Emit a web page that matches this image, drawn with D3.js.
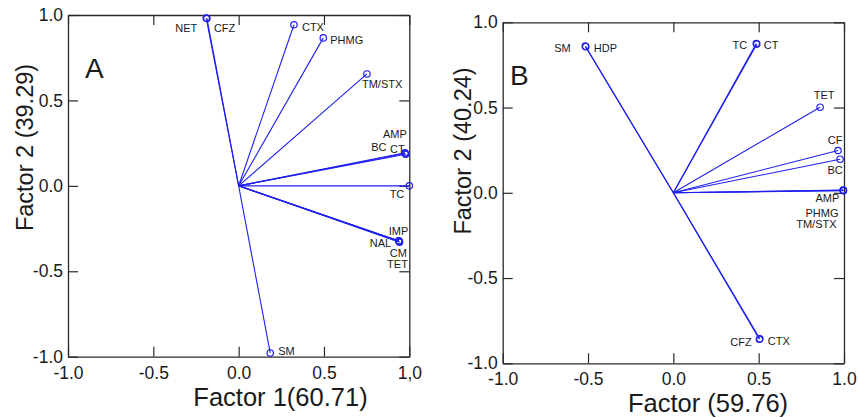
<!DOCTYPE html>
<html>
<head>
<meta charset="utf-8">
<script src="https://cdn.jsdelivr.net/npm/d3@7"></script>
<style>
  body { margin: 0; background: #fff; }
  svg { display: block; }
  text { font-family: "Liberation Sans", Arial, sans-serif; fill: #1a1a1a; }
</style>
</head>
<body>
<svg id="chart" width="858" height="418"></svg>
<script>
// ---------- DATA ----------
const tickValues = [-1, -0.5, 0, 0.5, 1];
const tickLabelsAX = ["-1.0", "-0.5", "0.0", "0.5", "1,0"];
const tickLabelsAY = ["-1.0", "-0.5", "0.0", "0.5", "1.0"];
const tickLabelsBX = ["-1.0", "-0.5", "0.0", "0.5", "1.0"];
const tickLabelsBY = ["-1.0", "-0.5", "0.0", "0.5", "1.0"];

const namesA = ["NET", "CFZ", "CTX", "PHMG", "TM/STX", "AMP", "BC", "CT", "TC", "IMP", "NAL", "CM", "TET", "SM"];
const factor1A = [-0.19, -0.186, 0.324, 0.496, 0.752, 0.977, 0.975, 0.979, 1.0, 0.941, 0.938, 0.943, 0.939, 0.185];
const factor2A = [0.982, 0.980, 0.943, 0.866, 0.655, 0.189, 0.194, 0.185, 0.0, -0.326, -0.321, -0.330, -0.323, -0.978];

const namesB = ["SM", "HDP", "TC", "CT", "TET", "CF", "BC", "AMP", "PHMG", "TM/STX", "CFZ", "CTX"];
const factor1B = [-0.516, -0.513, 0.486, 0.489, 0.86, 0.965, 0.977, 0.996, 0.997, 0.995, 0.504, 0.507];
const factor2B = [0.86, 0.857, 0.875, 0.872, 0.502, 0.248, 0.197, 0.014, 0.012, 0.016, -0.859, -0.856];

const titleAX = "Factor 1(60.71)", titleAY = "Factor 2 (39.29)";
const titleBX = "Factor (59.76)", titleBY = "Factor 2 (40.24)";

// ---------- LAYOUT (label placement: dx, dy, anchor) ----------
const labelPosA = [[-9,14,"end"],[7,14,"start"],[8,6,"start"],[7,6,"start"],[-5,14,"start"],
  [1.5,-16,"end"],[-18.5,-1.5,"end"],[-1,-1.5,"end"],[-5,11.7,"end"],
  [9,-6.5,"end"],[-7.6,6.6,"end"],[7.4,14.3,"end"],[9,26.7,"end"],[8,2.4,"start"]];
const labelPosB = [[-14.6,5.7,"end"],[8,5.7,"start"],[-9,5,"end"],[7,5,"start"],
  [4,-8.4,"middle"],[4.4,-7,"end"],[2.7,14.3,"end"],[-4,11.7,"end"],
  [-5,26.7,"end"],[-6.6,38.3,"end"],[-7.6,6.4,"end"],[8,6.4,"start"]];

const svg = d3.select("#chart");
const BLUE = "#1f1fef";

function panel(cfg) {
  const x = d3.scaleLinear().domain([-1, 1]).range([cfg.left, cfg.right]);
  const y = d3.scaleLinear().domain([-1, 1]).range([cfg.bottom, cfg.top]);
  const g = svg.append("g");
  const TS = 10;

  const fmt = labels => (d, i) => labels[i];

  // axes (ticks inward on all four sides)
  const bx = g.append("g").attr("transform", `translate(0,${cfg.bottom})`)
    .call(d3.axisBottom(x).tickValues(tickValues).tickSizeInner(-TS).tickSizeOuter(0)
      .tickPadding(cfg.xPad).tickFormat(fmt(cfg.xLabels)));
  const ly = g.append("g").attr("transform", `translate(${cfg.left},0)`)
    .call(d3.axisLeft(y).tickValues(tickValues).tickSizeInner(-TS).tickSizeOuter(0)
      .tickPadding(5).tickFormat(fmt(cfg.yLabels)));
  const tx = g.append("g").attr("transform", `translate(0,${cfg.top})`)
    .call(d3.axisTop(x).tickValues(tickValues).tickSizeInner(-TS).tickSizeOuter(0).tickFormat(""));
  const ry = g.append("g").attr("transform", `translate(${cfg.right},0)`)
    .call(d3.axisRight(y).tickValues(tickValues).tickSizeInner(-TS).tickSizeOuter(0).tickFormat(""));

  [bx, ly, tx, ry].forEach(a => {
    a.selectAll("path.domain").attr("stroke", "#2a2a2a").attr("stroke-width", 1.3);
    a.selectAll(".tick line").attr("stroke", "#2a2a2a").attr("stroke-width", 1.2);
    a.selectAll(".tick text").attr("font-size", 17.5).attr("fill", "#1a1a1a")
      .attr("font-family", '"Liberation Sans", Arial, sans-serif');
  });
  tx.selectAll(".tick text").remove();
  ry.selectAll(".tick text").remove();

  // vectors
  const idx = d3.range(cfg.names.length);
  g.append("g").selectAll("line").data(idx).join("line")
    .attr("x1", x(0)).attr("y1", y(0))
    .attr("x2", i => x(cfg.f1[i])).attr("y2", i => y(cfg.f2[i]))
    .attr("stroke", BLUE).attr("stroke-width", 1.1);
  g.append("g").selectAll("circle").data(idx).join("circle")
    .attr("cx", i => x(cfg.f1[i])).attr("cy", i => y(cfg.f2[i])).attr("r", 3.2)
    .attr("fill", "none").attr("stroke", BLUE).attr("stroke-width", 1.2);
  g.append("g").selectAll("text").data(idx).join("text")
    .attr("x", i => x(cfg.f1[i]) + cfg.pos[i][0])
    .attr("y", i => y(cfg.f2[i]) + cfg.pos[i][1])
    .attr("text-anchor", i => cfg.pos[i][2])
    .attr("font-size", 11)
    .text(i => cfg.names[i]);

  // panel letter
  g.append("text").attr("x", cfg.letterX).attr("y", cfg.letterY)
    .attr("font-size", 28).text(cfg.letter);

  // axis titles
  g.append("text").attr("x", cfg.xtX).attr("y", cfg.xtY).attr("text-anchor", "middle")
    .attr("font-size", 25.5).text(cfg.xTitle);
  g.append("text").attr("transform", `translate(${cfg.ytX},${cfg.ytY}) rotate(-90)`)
    .attr("text-anchor", "middle").attr("font-size", 23.5).text(cfg.yTitle);
}

panel({
  left: 68, right: 409.3, top: 15, bottom: 356.7, xPad: 10,
  xLabels: tickLabelsAX, yLabels: tickLabelsAY,
  names: namesA, f1: factor1A, f2: factor2A, pos: labelPosA,
  letter: "A", letterX: 85, letterY: 78,
  xTitle: titleAX, xtX: 280.5, xtY: 406,
  yTitle: titleAY, ytX: 33, ytY: 147.5
});

panel({
  left: 502.7, right: 844, top: 22.3, bottom: 363.3, xPad: 9,
  xLabels: tickLabelsBX, yLabels: tickLabelsBY,
  names: namesB, f1: factor1B, f2: factor2B, pos: labelPosB,
  letter: "B", letterX: 510, letterY: 85,
  xTitle: titleBX, xtX: 708, xtY: 412,
  yTitle: titleBY, ytX: 470.5, ytY: 151
});
</script>
</body>
</html>
